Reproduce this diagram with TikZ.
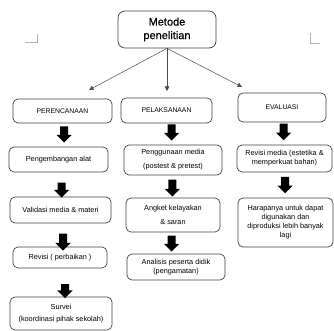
\documentclass[tikz,border=0pt]{standalone}
\usepackage{fontspec}
\newfontfamily\diagfont{Liberation Sans}
\usetikzlibrary{arrows.meta,shapes,positioning}

\begin{document}
\begin{tikzpicture}[x=1pt, y=-1pt,
        stepbox/.style = {draw = black!75, line width = 0.7pt, rounded corners = 5pt,
                          align = center, inner sep = 1pt, font = \diagfont\fontsize{7.3}{9}\selectfont},
        headbox/.style = {stepbox, font = \diagfont\fontsize{6.8}{9}\selectfont},
        topbox/.style = {stepbox, rounded corners = 7pt, font = \diagfont\fontsize{11}{13.5}\selectfont\addfontfeature{FakeBold=0.6}},
        thin_link/.style = {color = black!70, line width = 0.5pt, -{Triangle[length=4.5pt, width=4.5pt]}},
        crop_mark/.style = {color = black!30, line width = 0.6pt},
        BlockArrow/.style = {single arrow, fill = black, draw = none, rotate = -90, minimum width = 0pt,
                             inner xsep = 0pt, inner ysep = 3.8pt, text height = 0pt, text depth = 0pt,
                             single arrow head extend = 3.6pt}]
    \useasboundingbox (0,0) rectangle (334,331);
    % top
    \node[topbox, minimum width = 98pt, minimum height = 37pt] (metode) at (167,29.5) {Metode\\penelitian};
    \draw[crop_mark] (25,42) -- (37,42) -- (37,34);
    \draw[crop_mark] (310,33) -- (310,43) -- (320,43);
    % heads of the three columns
    \node[headbox, minimum width = 99pt, minimum height = 24pt] (plan) at (62.5,111) {PERENCANAAN};
    \node[headbox, minimum width = 91pt, minimum height = 25pt] (pelak) at (166.5,110.5) {PELAKSANAAN};
    \node[headbox, minimum width = 88pt, minimum height = 29pt] (eval) at (282,107.5) {EVALUASI};
    \coordinate (plan_in) at (89,90);
    \coordinate (pelak_in) at (167,91);
    \coordinate (eval_in) at (242,87);
    \draw[thin_link] (metode.south) -- (plan_in);
    \draw[thin_link] (metode.south) -- (pelak_in);
    \draw[thin_link] (metode.south) -- (eval_in);
    % perencanaan
    \node[stepbox, minimum width = 99pt, minimum height = 25pt] (alat) at (58.5,159.5) {Pengembangan alat};
    \node[stepbox, minimum width = 101pt, minimum height = 26pt] (validasi) at (60.5,210) {Validasi media \& materi};
    \node[stepbox, minimum width = 94pt, minimum height = 21pt] (revisi) at (60,257.5) {Revisi ( perbaikan )};
    \node[stepbox, minimum width = 102pt, minimum height = 33pt] (survei) at (61,313.5) {Survei\\[3pt](koordinasi pihak sekolah)};
    % pelaksanaan
    \node[stepbox, minimum width = 98pt, minimum height = 30pt] (guna) at (173,160) {Penggunaan media\\[5pt](postest \& pretest)};
    \node[stepbox, minimum width = 94pt, minimum height = 34pt] (angket) at (173,215) {Angket kelayakan\\[5pt]\& saran};
    \node[stepbox, minimum width = 98pt, minimum height = 26pt] (analisis) at (176,267) {Analisis peserta didik\\(pengamatan)};
    % evaluasi
    \node[stepbox, minimum width = 95pt, minimum height = 27pt] (revmedia) at (284.5,158.5) {Revisi media (estetika \&\\memperkuat bahan)};
    \node[stepbox, minimum width = 95pt, minimum height = 49pt] (harap) at (285.5,222.5) {Harapanya untuk dapat\\digunakan dan\\diproduksi lebih banyak\\lagi};
    % block arrows
    \foreach \Xcoor/\Ycoor/\Len [count=\i] in {64/132.5/16, 61.5/188/15, 63/240/17, 65/289/14,
                                             171.7/130.5/16, 172.3/186/17, 171.7/241.5/16,
                                             283.5/130/16.5, 285/183/16.5}
        \node[BlockArrow, minimum height = \Len pt] (arr\i) at (\Xcoor,\Ycoor) {};
\end{tikzpicture}
\end{document}
